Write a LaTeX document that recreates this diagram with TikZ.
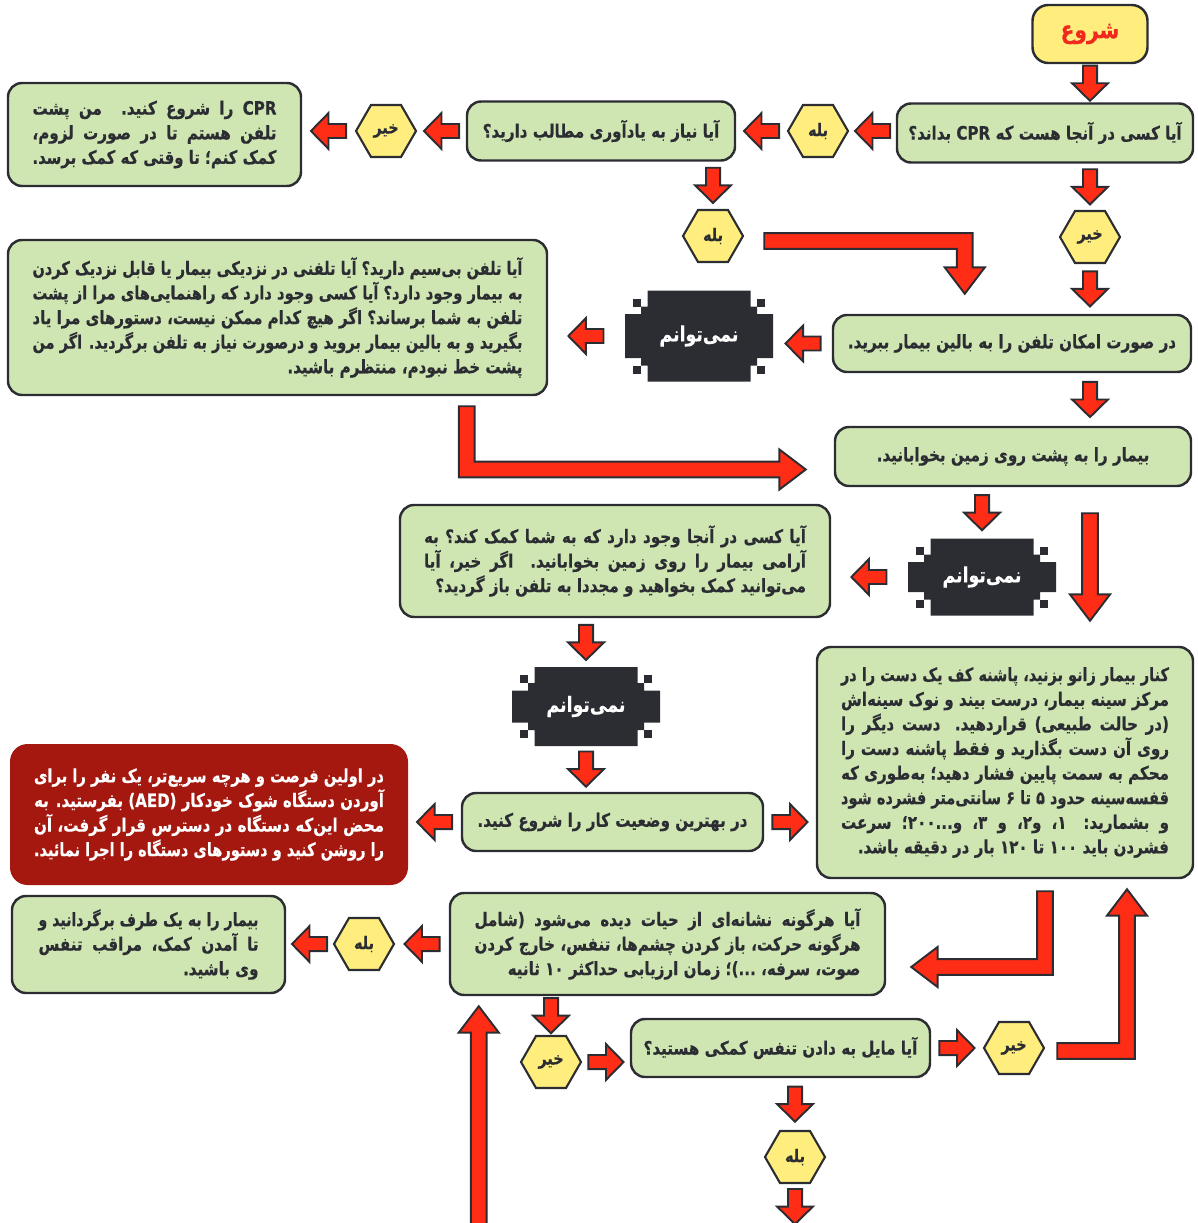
\documentclass[tikz,border=0pt]{standalone}
\usepackage{fontspec}
\usepackage{graphicx}
\usetikzlibrary{calc,shapes.geometric}
\TeXXeTstate=1
\newfontfamily\fa[Script=Arabic, FakeStretch=0.82, BoldFeatures={FakeBold=0.4}]{DejaVu Sans}
\newcommand{\RL}[1]{\beginR#1\endR}
\newcommand{\LRw}[1]{\beginL#1\endL{}}
\newlength\pxu \setlength\pxu{0.02cm}
\newsavebox\jlbox
% one right-to-left line set to a given width (spaces stretch, or the line is squeezed)
\newcommand{\JL}[2]{\sbox\jlbox{\beginR#2\endR}%
  \ifdim\wd\jlbox>#1\relax\resizebox{#1}{\height}{\usebox\jlbox}%
  \else\hbox to #1{\beginR#2\endR}\fi}

\definecolor{boxgreen}{RGB}{207,230,178}
\definecolor{ink}{RGB}{43,45,51}
\definecolor{hexyellow}{RGB}{255,237,125}
\definecolor{arrowred}{RGB}{255,44,22}
\definecolor{alertred}{RGB}{164,24,15}
\definecolor{titlered}{RGB}{240,40,30}

% block-arrow dimensions: short arrows / long arrows
\def\arrW{4pt}\def\arrHW{10.2pt}\def\arrHL{10pt}
\def\lngW{4.5pt}\def\lngHW{11.4pt}\def\lngHL{15pt}

% stepped dark badge, centred at (#1,#2), #3 px high
\newcommand{\pixshape}[3]{%
  \begin{scope}[shift={(#1,#2)}]
  \fill[ink] (-51.5,{-#3/2}) -- (51.5,{-#3/2}) -- (51.5,{-#3/2+16}) -- (58,{-#3/2+16})
    -- (58,{-#3/2+23.5}) -- (74,{-#3/2+23.5}) -- (74,{#3/2-23.5}) -- (58,{#3/2-23.5})
    -- (58,{#3/2-16}) -- (51.5,{#3/2-16}) -- (51.5,{#3/2}) -- (-51.5,{#3/2})
    -- (-51.5,{#3/2-16}) -- (-58,{#3/2-16}) -- (-58,{#3/2-23.5}) -- (-74,{#3/2-23.5})
    -- (-74,{-#3/2+23.5}) -- (-58,{-#3/2+23.5}) -- (-58,{-#3/2+16}) -- (-51.5,{-#3/2+16}) -- cycle;
  \fill[ink] (58,{-#3/2+8}) rectangle (66,{-#3/2+16});
  \fill[ink] (-58,{-#3/2+8}) rectangle (-66,{-#3/2+16});
  \fill[ink] (58,{#3/2-8}) rectangle (66,{#3/2-16});
  \fill[ink] (-58,{#3/2-8}) rectangle (-66,{#3/2-16});
  \end{scope}}

\tikzset{
  box/.style 2 args={draw=ink, line width=1.4pt, fill=boxgreen, rounded corners=8pt,
    minimum width={#1*0.02cm}, minimum height={#2*0.02cm}, inner sep=0pt,
    align=right, text=ink, font=\fa\bfseries\fontsize{10.5}{14}\selectfont},
  alertbox/.style 2 args={fill=alertred, rounded corners=10pt,
    minimum width={#1*0.02cm}, minimum height={#2*0.02cm}, inner sep=0pt,
    align=right, text=white, font=\fa\bfseries\fontsize{10.5}{14}\selectfont},
  startbox/.style={draw=ink, line width=1.4pt, fill=hexyellow, rounded corners=9pt,
    minimum width={115*0.02cm}, minimum height={58*0.02cm}, text=titlered,
    font=\fa\bfseries\fontsize{14}{15}\selectfont},
  hexn/.style={regular polygon, regular polygon sides=6, minimum size={60*0.02cm},
    inner sep=0pt, draw=ink, line width=1.2pt, fill=hexyellow, text=ink,
    font=\fa\bfseries\fontsize{10}{11}\selectfont},
  blk/.style={rectangle, inner sep=0pt, minimum width={150*0.02cm},
    minimum height={#1*0.02cm}, text=white, font=\fa\bfseries\fontsize{12}{13}\selectfont},
  arrowbase/.style={draw=ink, line width=1.1pt, fill=arrowred, line join=miter},
  % short block arrow of fixed length, centred between its two ends
  barrow/.style={arrowbase, to path={let \p1=(\tikztostart), \p2=(\tikztotarget),
    \n1={atan2(\y2-\y1,\x2-\x1)}, \p3=($(\p1)!0.5!(\p2)$) in
    ($(\p3)+(\n1:-10pt)+(\n1+90:\arrW)$) -- ($(\p3)+(\n1+90:\arrW)$)
    -- ($(\p3)+(\n1+90:\arrHW)$) -- ($(\p3)+(\n1:\arrHL)$) -- ($(\p3)+(\n1-90:\arrHW)$)
    -- ($(\p3)+(\n1-90:\arrW)$) -- ($(\p3)+(\n1:-10pt)+(\n1-90:\arrW)$) -- cycle}},
  % long straight block arrow between its two ends
  larrow/.style={arrowbase, to path={let \p1=(\tikztostart), \p2=(\tikztotarget),
    \n1={atan2(\y2-\y1,\x2-\x1)} in
    ($(\p1)+(\n1+90:\lngW)$) -- ($(\p2)+(\n1:-\lngHL)+(\n1+90:\lngW)$)
    -- ($(\p2)+(\n1:-\lngHL)+(\n1+90:\lngHW)$) -- (\p2)
    -- ($(\p2)+(\n1:-\lngHL)+(\n1-90:\lngHW)$) -- ($(\p2)+(\n1:-\lngHL)+(\n1-90:\lngW)$)
    -- ($(\p1)+(\n1-90:\lngW)$) -- cycle}},
  % elbow arrow: horizontal first, then vertical
  hvarrow/.style={arrowbase, to path={let \p1=(\tikztostart), \p2=(\tikztotarget),
    \n1={sign(\x2-\x1)}, \n2={sign(\y2-\y1)} in
    (\x1,{\y1-(\n2)*\lngW}) -- ({\x2+(\n1)*\lngW},{\y1-(\n2)*\lngW})
    -- ({\x2+(\n1)*\lngW},{\y2-(\n2)*\lngHL}) -- ({\x2+(\n1)*\lngHW},{\y2-(\n2)*\lngHL})
    -- (\x2,\y2) -- ({\x2-(\n1)*\lngHW},{\y2-(\n2)*\lngHL}) -- ({\x2-(\n1)*\lngW},{\y2-(\n2)*\lngHL})
    -- ({\x2-(\n1)*\lngW},{\y1+(\n2)*\lngW}) -- (\x1,{\y1+(\n2)*\lngW}) -- cycle}},
  % elbow arrow: vertical first, then horizontal
  vharrow/.style={arrowbase, to path={let \p1=(\tikztostart), \p2=(\tikztotarget),
    \n1={sign(\x2-\x1)}, \n2={sign(\y2-\y1)} in
    ({\x1-(\n1)*\lngW},\y1) -- ({\x1-(\n1)*\lngW},{\y2+(\n2)*\lngW})
    -- ({\x2-(\n1)*\lngHL},{\y2+(\n2)*\lngW}) -- ({\x2-(\n1)*\lngHL},{\y2+(\n2)*\lngHW})
    -- (\x2,\y2) -- ({\x2-(\n1)*\lngHL},{\y2-(\n2)*\lngHW}) -- ({\x2-(\n1)*\lngHL},{\y2-(\n2)*\lngW})
    -- ({\x1+(\n1)*\lngW},{\y2-(\n2)*\lngW}) -- ({\x1+(\n1)*\lngW},\y1) -- cycle}},
}

\begin{document}
\begin{tikzpicture}[x=0.02cm, y=-0.02cm]
\useasboundingbox (0,0) rectangle (1197,1223);

% ---- nodes ----
\node[startbox] (start) at (1090,34) {\RL{شروع}};
\node[box={296}{59}] (A) at (1045,133) {\RL{آیا کسی در آنجا هست که \LRw{CPR} بداند؟}};
\node[hexn] (hYes1) at (818,131) {\RL{بله}};
\node[box={268}{59}] (B) at (601,131) {\RL{آیا نیاز به یادآوری مطالب دارید؟}};
\node[hexn] (hNo1) at (386,131) {\RL{خیر}};
\node[box={293}{103}] (C) at (154.5,134.5) {%
  \JL{244\pxu}{\LRw{CPR} را شروع کنید. من پشت}\\
  \JL{244\pxu}{تلفن هستم تا در صورت لزوم،}\\
  \JL{244\pxu}{کمک کنم؛ تا وقتی که کمک برسد.}};

\node[hexn] (hYes2) at (713,236) {\RL{بله}};
\node[hexn] (hNo2) at (1090,237) {\RL{خیر}};
\node[box={358}{57}] (D) at (1012,343.5) {\RL{در صورت امکان تلفن را به بالین بیمار ببرید.}};
\pixshape{699}{336}{91}
\node[blk=91] (N1) at (699,336) {\RL{نمی‌توانم}};
\node[box={539}{155}] (E) at (277.5,317.5) {%
  \JL{490\pxu}{آیا تلفن بی‌سیم دارید؟ آیا تلفنی در نزدیکی بیمار یا قابل نزدیک کردن}\\
  \JL{490\pxu}{به بیمار وجود دارد؟ آیا کسی وجود دارد که راهنمایی‌های مرا از پشت}\\
  \JL{490\pxu}{تلفن به شما برساند؟ اگر هیچ کدام ممکن نیست، دستورهای مرا یاد}\\
  \JL{490\pxu}{بگیرید و به بالین بیمار بروید و درصورت نیاز به تلفن برگردید. اگر من}\\
  \RL{پشت خط نبودم، منتظرم باشید.}};

\node[box={356}{59}] (F) at (1013,456.5) {\RL{بیمار را به پشت روی زمین بخوابانید.}};
\pixshape{982}{577}{77}
\node[blk=77] (N2) at (982,577) {\RL{نمی‌توانم}};
\node[box={430}{112}] (G) at (615,561) {%
  \JL{382\pxu}{آیا کسی در آنجا وجود دارد که به شما کمک کند؟ به}\\
  \JL{382\pxu}{آرامی بیمار را روی زمین بخوابانید. اگر خیر، آیا}\\
  \RL{می‌توانید کمک بخواهید و مجددا به تلفن باز گردید؟}};
\node[box={376}{231}] (H) at (1005,762.5) {%
  \JL{328\pxu}{کنار بیمار زانو بزنید، پاشنه کف یک دست را در}\\
  \JL{328\pxu}{مرکز سینه بیمار، درست بیند و نوک سینه‌اش}\\
  \JL{328\pxu}{(در حالت طبیعی) قراردهید. دست دیگر را}\\
  \JL{328\pxu}{روی آن دست بگذارید و فقط پاشنه دست را}\\
  \JL{328\pxu}{محکم به سمت پایین فشار دهید؛ به‌طوری که}\\
  \JL{328\pxu}{قفسه‌سینه حدود ۵ تا ۶ سانتی‌متر فشرده شود}\\
  \JL{328\pxu}{و بشمارید: ۱، و۲، و ۳، و...۲۰۰؛ سرعت}\\
  \RL{فشردن باید ۱۰۰ تا ۱۲۰ بار در دقیقه باشد.}};
\pixshape{586}{706.5}{79}
\node[blk=79] (N3) at (586,706.5) {\RL{نمی‌توانم}};
\node[box={301}{58}] (I) at (612.5,822) {\RL{در بهترین وضعیت کار را شروع کنید.}};
\node[alertbox={398}{141}] (J) at (209,814.5) {%
  \JL{350\pxu}{در اولین فرصت و هرچه سریع‌تر، یک نفر را برای}\\
  \JL{350\pxu}{آوردن دستگاه شوک خودکار (AED) بفرستید.  به}\\
  \JL{350\pxu}{محض این‌که دستگاه در دسترس قرار گرفت، آن}\\
  \JL{350\pxu}{را روشن کنید و دستورهای دستگاه را اجرا نمائید.}};

\node[box={435}{102}] (K) at (667.5,944) {%
  \JL{386\pxu}{آیا هرگونه نشانه‌ای از حیات دیده می‌شود (شامل}\\
  \JL{386\pxu}{هرگونه حرکت، باز کردن چشم‌ها، تنفس، خارج کردن}\\
  \RL{صوت، سرفه، ...)؛ زمان ارزیابی حداکثر ۱۰ ثانیه}};
\node[hexn] (hYes3) at (364,944) {\RL{بله}};
\node[box={273}{97}] (L) at (148.5,944.5) {%
  \JL{220\pxu}{بیمار را به یک طرف برگردانید و}\\
  \JL{220\pxu}{تا آمدن کمک، مراقب تنفس}\\
  \RL{وی باشید.}};
\node[hexn] (hNo3) at (551,1062) {\RL{خیر}};
\node[box={299}{58}] (M) at (780.5,1048) {\RL{آیا مایل به دادن تنفس کمکی هستید؟}};
\node[hexn] (hNo4) at (1014,1048) {\RL{خیر}};
\node[hexn] (hYes4) at (795,1157) {\RL{بله}};

% ---- connectors ----
\draw[barrow] (start.south) to (A.north -| start.south);
\draw[barrow] (A.west |- hYes1.east) to (hYes1.east);
\draw[barrow] (hYes1.west) to (hYes1.west -| B.east);
\draw[barrow] (B.west |- hNo1.east) to (hNo1.east);
\draw[barrow] (hNo1.west) to (hNo1.west -| C.east);
\draw[barrow] (B.south -| hYes2.north) to (hYes2.north);
\draw[barrow] (A.south -| hNo2.north) to (hNo2.north);
\draw[barrow] (hNo2.south) to (D.north -| hNo2.south);
\draw[barrow] (D.west) to (D.west -| N1.east);
\draw[barrow] (N1.west) to (N1.west -| E.east);
\draw[barrow] (D.south -| start.south) to (F.north -| start.south);
\draw[barrow] (F.south -| N2.north) to (N2.north);
\draw[barrow] (N2.west) to (N2.west -| G.east);
\draw[barrow] (G.south -| N3.north) to (N3.north);
\draw[barrow] (N3.south) to (I.north -| N3.south);
\draw[barrow] (I.east) to (I.east -| H.west);
\draw[barrow] (I.west) to (I.west -| J.east);
\draw[barrow] (K.west |- hYes3.east) to (hYes3.east);
\draw[barrow] (hYes3.west) to (hYes3.west -| L.east);
\draw[barrow] (K.south -| hNo3.north) to (hNo3.north);
\draw[barrow] (hNo3.east) to (hNo3.east -| M.west);
\draw[barrow] (M.east |- hNo4.west) to (hNo4.west);
\draw[barrow] (M.south -| hYes4.north) to (hYes4.north);
\draw[barrow] (hYes4.south) to ($(hYes4.south)+(0,45)$);

\draw[larrow] ($(F.south -| start.south)+(0,26)$) to ($(H.north -| start.south)+(0,-25)$);
\draw[larrow] ($(K.south west)+(30,232)$) to ($(K.south west)+(30,10)$);
\draw[hvarrow] ($(hYes2.east)+(20,5)$) to ($(D.north west)+(133,-20)$);
\draw[vharrow] ($(E.south west)+(460,10)$) to ($(F.west)+(-28,13)$);
\draw[vharrow] ($(H.south)+(40,12)$) to ($(K.east)+(25,23)$);
\draw[hvarrow] ($(hNo4.east)+(12,3)$) to ($(H.south)+(122,10)$);
\end{tikzpicture}
\end{document}
